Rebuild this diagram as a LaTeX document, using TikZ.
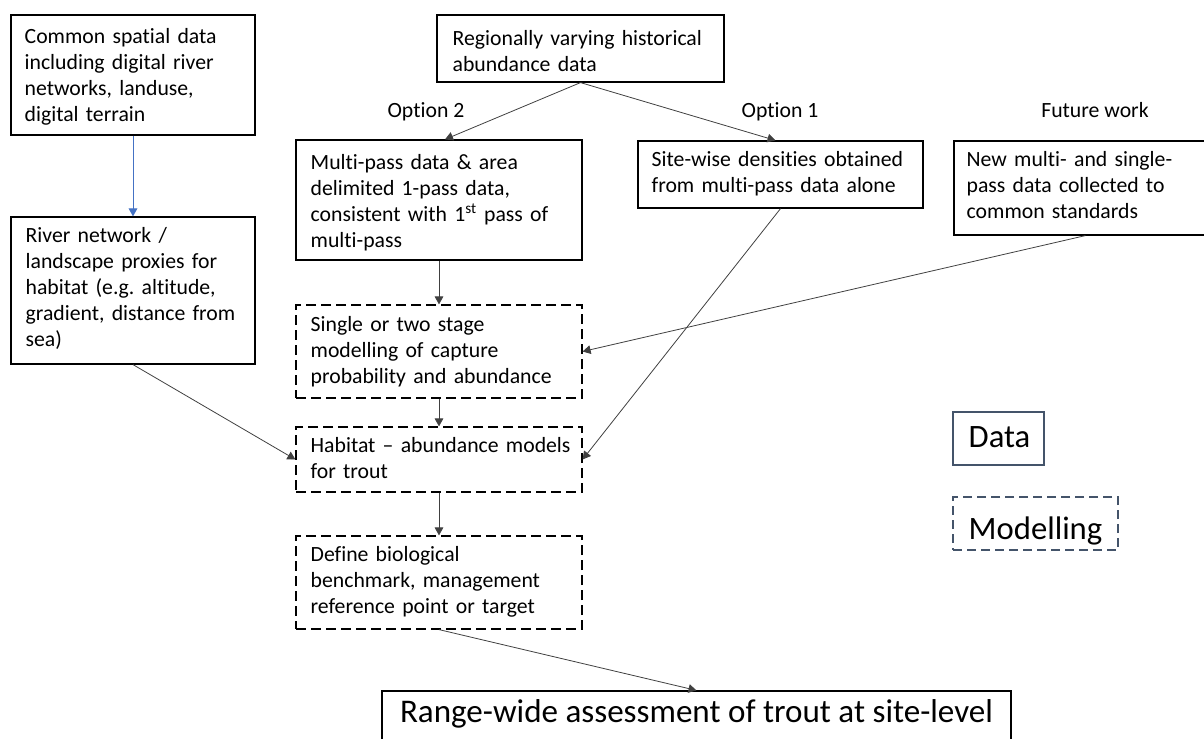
\documentclass[tikz,border=0pt]{standalone}
\usepackage{fontspec}
\setmainfont{Carlito}[Ligatures=NoCommon]
\usetikzlibrary{arrows.meta,fit,calc}
\frenchspacing
\definecolor{legendblue}{HTML}{44546A}
\definecolor{arrowblue}{HTML}{4472C4}
\newcommand\mkbox[6]{\node[#6, inner sep=0pt, fit={(#2,#3) (#4,#5)}] (#1) {};}
\tikzset{
  databox/.style={draw=black, line width=0.9pt},
  modelbox/.style={draw=black, line width=0.9pt, dash pattern=on 7.5pt off 3.75pt},
  txt/.style={inner sep=0pt, align=left, text width=260pt, anchor=base west, font=\fontsize{16.3}{19.6}\selectfont},
  lbl/.style={inner sep=0pt, anchor=base, font=\fontsize{16.3}{19.6}\selectfont},
  conn/.style={draw=black!75, line width=0.6pt, -{Triangle[length=6pt,width=6.5pt]}},
  blueconn/.style={draw=arrowblue, line width=0.7pt, -{Triangle[length=6pt,width=6.5pt]}},
}
\begin{document}
\begin{tikzpicture}[x=0.75pt,y=-0.75pt]
\useasboundingbox (0,0) rectangle (1204,739);
% boxes
\mkbox{A}{11}{15}{255}{135}{databox}
\mkbox{B}{11}{217}{255}{364}{databox}
\mkbox{C}{437}{15}{724}{82}{databox}
\mkbox{D}{296}{140}{582}{260}{databox}
\mkbox{E}{638}{141}{923}{208}{databox}
\mkbox{F}{954}{141}{1215}{235}{databox}
\mkbox{G}{296}{305}{582}{398}{modelbox}
\mkbox{H}{296}{427}{582}{492}{modelbox}
\mkbox{I}{296}{536}{582}{629}{modelbox}
\mkbox{J}{382}{691}{1011}{750}{databox}
\mkbox{L1}{953}{412}{1044}{465}{draw=legendblue, line width=0.8pt}
\mkbox{L2}{953}{497}{1118}{550}{draw=legendblue, line width=0.8pt, dash pattern=on 6.5pt off 4pt}
% texts
\node[txt] (At) at ([shift={(14,29)}]A.north west) {Common spatial data\\including digital river\\networks, landuse,\\digital terrain};
\node[txt] (Bt) at ([shift={(15,26)}]B.north west) {River network /\\landscape proxies for\\habitat (e.g. altitude,\\gradient, distance from\\sea)};
\node[txt] (Ct) at ([shift={(16,31)}]C.north west) {Regionally varying historical\\abundance data};
\node[txt] (Dt) at ([shift={(15,30)}]D.north west) {Multi-pass data \& area\\delimited 1-pass data,\\consistent with 1\textsuperscript{st} pass of\\multi-pass};
\node[txt] (Et) at ([shift={(14,26)}]E.north west) {Site-wise densities obtained\\from multi-pass data alone};
\node[txt] (Ft) at ([shift={(13,26)}]F.north west) {New multi- and single-\\pass data collected to\\common standards};
\node[txt] (Gt) at ([shift={(15,27)}]G.north west) {Single or two stage\\modelling of capture\\probability and abundance};
\node[txt] (Ht) at ([shift={(15,26)}]H.north west) {Habitat -- abundance models\\for trout};
\node[txt] (It) at ([shift={(15,26)}]I.north west) {Define biological\\benchmark, management\\reference point or target};
\node[inner sep=0pt, anchor=base, font=\fontsize{24.8}{30}\selectfont] (Jt) at ([yshift=-24pt]J.north) {Range-wide assessment of trout at site-level};
\node[inner sep=0pt, anchor=base west, font=\fontsize{24.5}{30}\selectfont] (L1t) at ([shift={(16,36)}]L1.north west) {Data};
\node[inner sep=0pt, anchor=base west, font=\fontsize{24.5}{30}\selectfont] (L2t) at ([shift={(16,43)}]L2.north west) {Modelling};
% labels
\node[lbl] (O2) at (426,117) {Option 2};
\node[lbl] (O1) at (780,117) {Option 1};
\node[lbl] (FW) at (1095,117) {Future work};
% connectors
\draw[blueconn] (A.south) -- (B.north);
\draw[conn] (C.south) -- ([xshift=4.5pt]D.north);
\draw[conn] (C.south) -- ([xshift=-3.75pt]E.north);
\draw[conn] (D.south) -- (G.north);
\draw[conn] (G.south) -- (H.north);
\draw[conn] (H.south) -- (I.north);
\draw[conn] (B.south) -- (H.west);
\draw[conn] (E.south) -- (H.east);
\draw[conn] ([xshift=99pt]F.south west) -- (G.east);
\draw[conn] (I.south) -- (J.north);
\end{tikzpicture}
\end{document}
